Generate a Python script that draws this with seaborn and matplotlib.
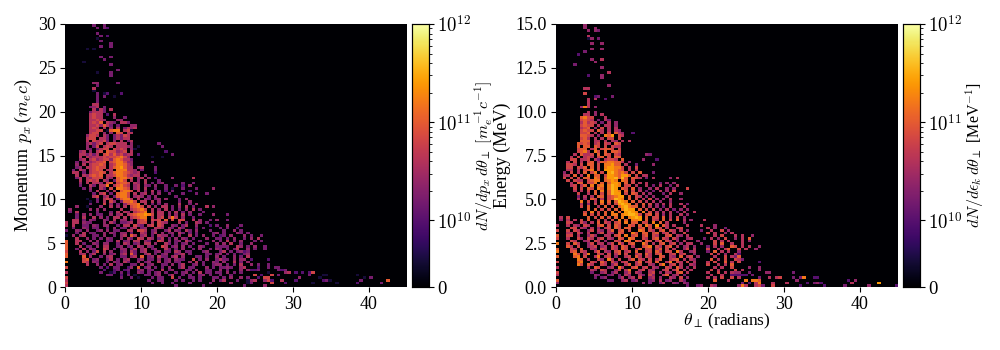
import numpy as np
import matplotlib
matplotlib.use("Agg")
import matplotlib.pyplot as plt
from matplotlib.colors import SymLogNorm
import seaborn as sns

sns.set_theme(style="ticks")
plt.rcParams["font.family"] = ["Liberation Serif", "DejaVu Serif"]
plt.rcParams["mathtext.fontset"] = "cm"

# intensity classes (bin counts on the colour bar scale)
level_values = {".": 0, "1": 0.4e10, "2": 1.0e10, "3": 1.6e10, "4": 2.5e10, "5": 4e10,
                "6": 6.5e10, "7": 1.0e11, "8": 1.6e11, "9": 2.5e11, "a": 3.5e11}
n_bins = 100
theta_max = 45.0
px_max = 30.0
energy_max = 15.0

# (row from top, first column, classes); later entries add to or replace earlier cells
px_rows = [
 (0,8,"3..3"),(1,9,"3.32"),(3,9,"3"),(4,10,"3.2"),(5,9,"1"),(6,10,"3"),(7,13,"3"),(8,10,"3..3"),(9,6,"1.1"),
 (12,10,"3..3"),(13,11,"3"),(14,5,"1"),(15,13,"3"),(17,15,"3"),(18,9,"1...3"),(19,13,"3"),(22,8,"44.....3"),
 (23,9,"3"),(24,8,"5"),(25,8,"1"),(26,9,"3.12...2"),(27,9,"3.3..1"),(28,9,"3"),(29,9,"3"),(30,8,"55"),
 (31,7,"345.3"),(32,8,"5153.5"),(33,7,"35553"),(34,7,"5655.2.5"),(35,7,"5655...4..3"),(36,7,"55654...44"),
 (37,7,"5657.543.553"),(38,7,"5564753.3...44"),(39,7,"565.5.4.5.3545"),(40,7,"5566.1788.561"),
 (41,7,"566.4.4.76.55"),(42,6,"4665.53.35365"),(43,6,"566.553.35355"),(44,6,"5.65563.4.5.35"),
 (45,6,"45356.566555.4.......3"),(46,6,"4.36.565.55544.1......3"),(47,6,"43.3566.6565.41"),
 (48,4,"45.4.56.766456.5.........2"),(49,4,"553535.675756455.2.........3"),
 (50,4,"5.5455565675544......1..1"),(51,4,"45.5645664.75453"),(52,3,"3.4545667.6566544.....3"),
 (53,3,"4.5.56676.5.57554"),(54,3,"34.556766.55.7655.45...3"),(55,2,"3.54.5676.55.4.7754.3...3"),
 (56,2,"55.3.56676.5.5776545....2"),(57,3,"5.546767.55.5775455.4"),
 (58,3,"35.54666.54.57866.45.4.2....4.....5"),(59,4,"5.5656.54.3786.5.4.5...3"),
 (60,4,"4.5.554.67.6776.54.5.3.34.....3..3"),(61,4,"3..53.558.57865.45.43.4..3..3.2.4"),
 (62,5,"3.4..53.6.8876.45.5..3..3.1..3...3....4"),(63,7,"3.5..4.5.7886.5.4.5.3.2.3....2"),
 (64,8,"3.56.3.7886.5.45.4.4..3...3...3..3"),(65,8,"56.45.37886.454.3.4.....3"),
 (66,6,"1..3.565.37885.5.43.34.4...3.4"),(67,7,"1.3.5.64.37786.55.5.4.....3..4"),
 (68,7,"3...6.4.3.46778.5.3.3.4...5..3.4"),(69,3,"4..1...4..5.4.5.6786.5.4.55.3.4.5.3...5.4"),
 (70,1,"4.....4.4.4....5..56786.5.4.5.3.3.4.5.3"),(71,1,"3.5.....3...3.5.54.5678.5.55.4.5.3.4...3"),
 (72,3,"3.4.4.33..4.45.56788986.55.4.4.5.3..3...4...3"),(73,3,"3.5..5.4.3.55.5.56788.5.56.5.5.4..3"),
 (74,2,"55.3.43..43.5.44.3.567.656.7.6.66..5.4..3.4..3"),(75,2,"55.433...4.53.3345.566.5.654...5.3..54.3"),
 (76,2,"5..33.43.44..3.55.643.56.65..43.35..4...2"),(77,2,"3..43.33..3.4.33.45.34..554.43.53...3.3"),
 (78,3,"43.4..34.4.33..55.665.34..35.43.53.4...3"),(79,3,"3.5.33..4.43.44.3..54.35.4.34.53.3.3....3"),
 (80,2,"4.45..33.4..3.45.75.45.3.544.3.4..5.3.4..3.2"),(81,3,"5..4.3.3.43..4.53.65.54.35.3.4.43.3...4..3"),
 (82,3,"55..4.4..33.5.34.55.43..65.4.34.53..3...4.3.4"),(83,3,"5.3..43.44..3.54.34.55.4..53.3.34.3...3..4"),
 (84,4,"5.33.4.55..34.34.54.43..65.34.4.3..43...3.3"),(85,3,"3.5.43..65.3.44.35.45.34..53.3.4..3.4..3..3"),
 (86,4,"5.4.36.5.4..34.53.45..34.33.54.33...34...3..4"),(87,4,"45.35..4.34.45.73..45.3.34..345.3....33.3"),
 (88,5,"7.4..3.45..33.45.7.34.533.45.4...33.3..4"),(89,5,"67.34..35.3.45..34.33.4.34.433..6.3.4..3.3"),
 (90,5,"65.43..3.43.53..4.34..5.34.33..4.5.3..4"),(91,6,"5..4.3.5.34..33.5.34..33.4.35..34.3..3.4"),
 (92,10,"3.2.33..24.7.34.3.3.4..35.33...4.3.3.4"),(93,11,"2..23.23..34.33..5.34...33.4..33..4.3"),
 (94,10,"3..12.3.2..43.3.34.3..3.34.3.5.33..3"),(95,12,"33..2.3.1..33.34..35..3.3..34.3"),
 (96,16,"3..3.1...3.33..6.3..33.3...34"),(97,24,"3..33...3.3..3.3...4.3"),
 (98,25,"3..3..3....3.....3.....4"),(99,32,"3.......3...........3"),
 (86,51,"421"),(87,51,"144"),(88,51,"4"),(89,51,"4.......2"),(90,51,"4"),(91,54,"4.3..3"),
 (92,51,"15...2..3.33"),(93,51,"4.4223.....323"),(94,51,"4.......1....45.2.2.26"),
 (95,55,"6.2..6.3........3...11........1"),(96,56,"2.66........4.....1............1.3"),
 (97,53,"145..462..5...2.......231........3.......7"),(98,53,"13.....6...2.......1......1.....2......3.......1"),
 (99,58,"4"),(73,31,"8"),
 (50,14,"6786"),(51,14,"7875"),(52,14,"7886"),(53,14,"6887"),(54,14,"7897"),(55,15,"8885"),(56,14,"7887"),
 (57,14,"6887"),(58,15,"7886"),
 (76,44,"3..4...3"),(77,45,"3.3..2"),(78,46,"3..4.3"),(79,44,"4.3...43.3"),(80,46,"3.4...4.3..3"),
 (81,45,"3.3.4..3.4.5"),(82,47,"5.3.4...3.3"),(83,46,"4.5..3..4"),(84,45,"3.3..54.3.4..3"),(85,44,"4..3.35..4.3..3"),
 (86,46,"5.3.3..3"),(87,45,"4.3.3..3"),(88,46,"3..4.3.5"),(89,45,"5.3.4..4.2"),(90,44,"3.4..5.3.4"),
 (91,44,"4..3.3.5"),(92,46,"3.3..4"),(93,45,"4.3"),(94,44,"3..4.3.3"),(95,45,"3..3"),(96,44,"3.3.4..4.3"),(97,46,"5...3"),
]
px_col0 = "..55.3.1.7777677.8.6.5.6565"   # first column, rows 73 to 99

energy_rows = [
 (0,8,"4"),(1,8,"4..4"),(2,9,"4.43"),(4,9,"5"),(5,9,"14.3"),(7,10,"4..4"),(9,10,"4..4"),(10,8,"3"),(11,6,"2"),
 (13,10,"4..5"),(14,11,"4"),(15,5,"3"),(16,13,"4"),(18,15,"5"),(19,9,"2...4"),(20,13,"4"),(23,15,"4"),(24,8,"55"),
 (26,8,"6"),(27,11,"23...3"),(28,9,"5.5..2"),(29,9,"5"),(30,9,"5"),(31,7,"485.4"),(33,9,"5.4"),(34,8,"55.4.5"),
 (35,7,"7866...5"),(36,7,"6765.3.53"),(37,7,"57565.3.5.4"),(38,7,"6766.5.55.4"),(39,7,"567.4.6.5.5"),
 (40,7,"6766.75.5.54"),(41,7,"667.5.5.6.754..2"),(42,7,"7765.4.879.65"),(43,7,"675.5.5.66.6"),
 (44,7,"777.55.5.54.5.5"),(45,6,"7676.56.65.76"),(46,6,"7.77.76.6.655"),(47,6,"677.57.6776.6"),
 (48,6,"6785.86.7.776"),(49,5,"5.7556.7.76.65.......43"),(50,4,"5.6.565.67.6.77"),
 (51,4,"66.556.53.5665.7.....4...2"),(52,3,"5.6.5.67.57.5.675.4"),(53,3,"665.6.77.6.7.877.5..3....4"),
 (54,3,"66.657.7.6.5.8986.5.6"),(55,3,"55.5.678.6.6.7976.5.5"),(56,2,"4.6.5.7.68.6.5.9986.6.7...3"),
 (57,2,"55.7.5.8.77.6.6.8997.6.55"),(58,2,"6.6.6.77.87.7.789a7.765.3.5....4.5"),(59,3,"6.655.6788.7898.87.6"),
 (60,4,"5.77.668.7.7998.7.6.5.5...3.4.4"),(61,4,"56.57.8.78.8a98.66.5..5.3.5..3.5"),
 (62,5,"6.6.76.87.8a9.76.7.4..4.5..4.4...6"),(63,5,"5.5.6.7.8.7a98.7.6.5.3.3.5.4.6"),
 (64,6,"6..5.7.6.7a99.6.76.5.4...3.5..4"),(65,6,"3.5.5.77.67899.7.65.4.4...4"),
 (66,6,"5.4.76.5.67a98.7.6.5.6.4.4.5..4"),(67,7,"8.6.5.8.7.7a98.7.6.5.5.4..4"),
 (68,7,"5.4.6.7.6.69a98.6.7.6.4.5.5..5.3"),(69,7,"6.7..5.7.6.79a877.6.5.4.3.5...5"),
 (70,9,"7.7.6.6.7.8a99.7.6.6.4.5.3.4.4"),(71,8,"6.8.6.7.8.7.9a98.8.6.5.5.5.3.5..5"),
 (72,8,"7.6.6.7.88.89aa96.67.6.4.5..5.4"),(73,1,"5.6.....7.6.7.6.7.8.89a9.7.66.7.5.6.4"),
 (74,1,"4.5.5.6.7..6.5.6.8.7.889.7.65.7.6.7.5.4...5"),(75,3,"65..64.5.7.65.67.8.77.66.8.7.5....4"),
 (76,3,"5.54.65..67.6.76..76.7.86.9.75.5...5"),(77,4,"66.54.5.4.56.76.77..67.6.76.5..56"),
 (78,3,"6.65..46.54.57.67.6..87.65.67.65.5.4...3"),(79,3,"55.64.5..46.54.76..86.77.67.56.5..6"),
 (80,3,"66.5..464..55.67.8.67.67.65..67.54.5"),(81,3,"5..64.65.56.54.76.87..65.67.65.64..45...3"),
 (82,4,"65..45.65.4..65.87.76.76.57.65.4.5...4"),(83,3,"6.75..46.55.46.75.67..86.5.67.56.4.55..4"),
 (84,3,"75.6..456.45.65.76.5..678.65.67.5.45.4...3"),(85,4,"65.7..54.65.65.76..57.66.57.6.5..46.5"),
 (86,4,"67.65..57.54.67.56.7..56.75.66.85..45...3"),(87,5,"86.58..65.6.57.6..56.75.67..56.56..4"),
 (88,5,"78.6..58.56.4..56.75.65..76.54.7.56.4"),(89,6,"87.5..64.85.6..57.65.6.57..567.5.54"),
 (90,6,"78..65.75.64.56..57.56.7..58.65.6.5"),(91,6,"86.75..65.46..57.56..54.68.56.5..54"),
 (92,9,"5.76..45.85..67.56.54..65.75.4.5"),(93,10,"54.65..46.58..56.54..56.57.5.5"),
 (94,10,"3..45.35..46.54..56.4.54.67.5"),(95,11,"43..34.3.54..53.64..57.45.3"),
 (96,11,"3.34...35.45.6..45.4..54.6.4"),(97,15,"33..45.34...34.5.34..53"),
 (98,25,"4.3..35..43.43"),(99,38,"3..34..54"),
 (87,53,"2"),(88,51,"53"),(89,52,"35"),(90,51,"5.......2"),(92,51,"5....4..4"),(93,52,"6.5....4"),
 (94,51,"444..3....44......3"),(95,51,"22222.3"),(96,51,"5.......3..5.56...3.38..22"),
 (97,55,"8.887..........4..............2.4"),(98,54,"3.2.58...5...5.....2.342........5.......9"),
 (99,53,"485..563..6.......2......2.....3......4.......2"),
 (52,14,"7887"),(53,14,"8897"),(54,14,"8998"),(55,14,"9998"),(56,15,"9a87"),(57,15,"9987"),(58,15,"99a7"),
 (76,42,"5...4"),(77,44,"5.4..3"),(78,45,"5..6.4"),(79,44,"6.5..4.5"),(80,46,"5.6...5.5..4"),
 (81,45,"5.4.6..4.5.7"),(82,46,"6.5.5...5.4"),(83,46,"6.7..5..5"),(84,46,"5.4..76.5.5..4"),(85,44,"6..5.57..6.5..4"),
 (86,46,"7.5.5..4"),(87,45,"6.5.4..5"),(88,46,"5..6.5.7"),(89,45,"7.5.6..6.3"),(90,44,"5.6..7.5.6"),
 (91,44,"6..5.5.7"),(92,46,"5.5..6"),(93,45,"6.5"),(94,44,"5..6.5.5"),(95,45,"5..5"),(96,44,"5.5.6..6.5"),(97,46,"7...5"),
]
energy_col0 = "...5.6.76.8.78.7.6.5.65.74"  # first column, rows 73 to 98


def to_grid(rows, col0, first_row):
    grid = np.zeros((n_bins, n_bins))
    for r, c, s in rows:
        for i, ch in enumerate(s):
            if ch != "." and c + i < n_bins:
                grid[r, c + i] = level_values[ch]
    for i, ch in enumerate(col0):
        if ch != ".":
            grid[first_row + i, 0] = level_values[ch]
    return grid


fig = plt.figure(figsize=(10, 3.5), dpi=100)
W, H = 1000, 350


def box(x0, y0, x1, y1):
    return [x0 / W, 1 - y1 / H, (x1 - x0) / W, (y1 - y0) / H]


norm = SymLogNorm(linthresh=1e10, linscale=0.61, vmin=0, vmax=1e12, base=10)
minor = [v * m for v in (1e10, 1e11) for m in range(2, 10)]
panels = [
    (px_rows, px_col0, 73, px_max, [0, 5, 10, 15, 20, 25, 30], ["0", "5", "10", "15", "20", "25", "30"],
     r"Momentum$\,\,p_x\,$($m_e c$)", "", r"$dN/dp_x\,d\theta_\perp$ $[m_e^{-1}c^{-1}]$", (65, 407), (412, 429)),
    (energy_rows, energy_col0, 73, energy_max, [0, 2.5, 5, 7.5, 10, 12.5, 15],
     ["0.0", "2.5", "5.0", "7.5", "10.0", "12.5", "15.0"],
     "Energy (MeV)", r"$\theta_\perp\,$(radians)", r"$dN/d\epsilon_k\,d\theta_\perp$ [MeV$^{-1}$]", (556, 898), (903, 920)),
]
for rows, col0, first, ymax, yt, ytl, ylab, xlab, clab, (a0, a1), (b0, b1) in panels:
    ax = fig.add_axes(box(a0, 24, a1, 287))
    cax = fig.add_axes(box(b0, 24, b1, 287))
    grid = to_grid(rows, col0, first)
    sns.heatmap(grid, ax=ax, cbar_ax=cax, cmap="inferno", norm=norm, xticklabels=False, yticklabels=False)
    ax.set_xticks(np.array([0, 10, 20, 30, 40]) / theta_max * n_bins)
    ax.set_xticklabels(["0", "10", "20", "30", "40"], rotation=0)
    ax.set_yticks(n_bins - np.array(yt) / ymax * n_bins)
    ax.set_yticklabels(ytl, rotation=0)
    ax.tick_params(labelsize=13, length=3.5, width=0.8, color="black", pad=3, labelcolor="black",
                   bottom=True, left=True)
    ax.set_ylabel(ylab, fontsize=13, labelpad=3, color="black")
    ax.set_xlabel(xlab, fontsize=12.5, labelpad=-1, color="black")
    cax.set_yticks([0, 1e10, 1e11, 1e12])
    cax.set_yticklabels(["0", r"$10^{10}$", r"$10^{11}$", r"$10^{12}$"])
    cax.set_yticks(minor, minor=True)
    cax.tick_params(which="major", labelsize=13.5, length=3.5, width=0.8, right=True, left=False, color="black", labelcolor="black", pad=2.5)
    cax.tick_params(which="minor", length=2, width=0.6, right=True, left=False, color="black")
    cax.set_ylabel(clab, fontsize=11.5, labelpad=1, color="black")
    cax.yaxis.set_label_position("right")
    for s in cax.spines.values():
        s.set_visible(True)
        s.set_linewidth(0.8)
        s.set_color("black")

fig.savefig("out.png", dpi=100)
